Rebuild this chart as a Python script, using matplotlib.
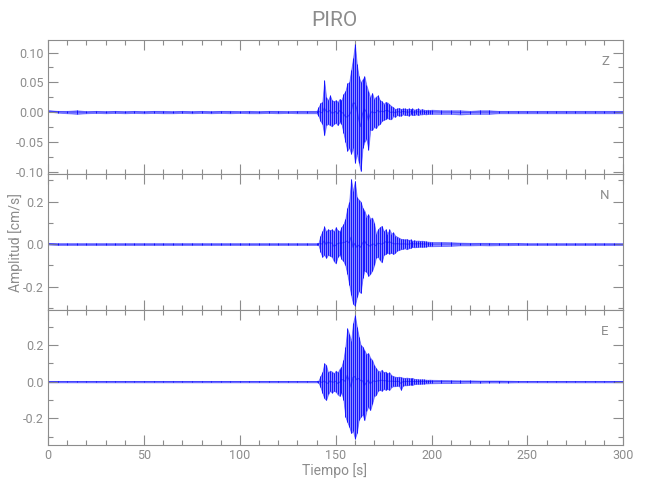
import numpy as np
import matplotlib
matplotlib.use("Agg")
import matplotlib.pyplot as plt
from matplotlib.ticker import MultipleLocator, FormatStrFormatter

plt.rcParams["font.family"] = ["Liberation Sans Narrow", "Roboto", "DejaVu Sans"]

# sample times (s): quiet part every 5 s, strong motion every 1 s, coda every 5 s
T_QUIET = list(range(0, 140, 5))
T_ACTIVE = list(range(140, 201))
T_CODA = list(range(205, 301, 5))
TIME = T_QUIET + T_ACTIVE + T_CODA

# upper / lower envelope read per sample (cm/s)
Z_UP_QUIET = [0.003, 0.002, 0.002, 0.003, 0.0015, 0.002, 0.0015, 0.002, 0.0015, 0.002,
              0.0015, 0.002, 0.002, 0.0015, 0.002, 0.0015, 0.002, 0.0015, 0.002, 0.002,
              0.0015, 0.002, 0.0015, 0.002, 0.002, 0.0015, 0.002, 0.002]
Z_DN_QUIET = [0.001, -0.001, -0.002, -0.003, -0.002, -0.0015, -0.002, -0.0015, -0.002, -0.0015,
              -0.002, -0.0015, -0.002, -0.002, -0.0015, -0.002, -0.0015, -0.002, -0.0015, -0.002,
              -0.0015, -0.002, -0.002, -0.0015, -0.002, -0.0015, -0.002, -0.002]
Z_UP_ACTIVE = [0.002, 0.008, 0.015, 0.017, 0.053, 0.025, 0.020, 0.028, 0.020, 0.018,
               0.020, 0.017, 0.022, 0.020, 0.030, 0.035, 0.048, 0.050, 0.070, 0.090,
               0.115, 0.080, 0.060, 0.050, 0.055, 0.060, 0.045, 0.035, 0.025, 0.032,
               0.022, 0.026, 0.028, 0.020, 0.018, 0.014, 0.017, 0.016, 0.013, 0.010,
               0.008, 0.005, 0.006, 0.007, 0.005, 0.006, 0.006, 0.005, 0.006, 0.005,
               0.006, 0.004, 0.005, 0.006, 0.004, 0.005, 0.004, 0.003, 0.004, 0.003,
               0.004]
Z_DN_ACTIVE = [-0.002, -0.006, -0.015, -0.020, -0.039, -0.022, -0.020, -0.022, -0.024, -0.020,
               -0.018, -0.022, -0.017, -0.020, -0.035, -0.050, -0.065, -0.060, -0.070, -0.060,
               -0.085, -0.070, -0.085, -0.099, -0.060, -0.050, -0.045, -0.063, -0.030, -0.030,
               -0.025, -0.027, -0.022, -0.020, -0.015, -0.013, -0.012, -0.010, -0.012, -0.012,
               -0.007, -0.008, -0.005, -0.006, -0.006, -0.004, -0.005, -0.005, -0.006, -0.004,
               -0.005, -0.005, -0.004, -0.005, -0.004, -0.004, -0.003, -0.004, -0.003, -0.003,
               -0.003]
Z_UP_CODA = [0.003, 0.003, 0.003, 0.002, 0.003, 0.003, 0.002, 0.002, 0.002, 0.002,
             0.002, 0.002, 0.002, 0.002, 0.002, 0.002, 0.002, 0.002, 0.002, 0.002]
Z_DN_CODA = [-0.003, -0.003, -0.004, -0.003, -0.003, -0.003, -0.002, -0.002, -0.002, -0.002,
             -0.002, -0.002, -0.002, -0.002, -0.002, -0.002, -0.002, -0.002, -0.002, -0.002]

N_UP_QUIET = [0.006, 0.004, 0.004, 0.004, 0.004, 0.004, 0.004, 0.004, 0.004, 0.004,
              0.004, 0.004, 0.004, 0.004, 0.004, 0.004, 0.004, 0.004, 0.004, 0.004,
              0.004, 0.004, 0.004, 0.004, 0.004, 0.004, 0.004, 0.004]
N_DN_QUIET = [-0.002, -0.004, -0.004, -0.004, -0.004, -0.004, -0.004, -0.004, -0.004, -0.004,
              -0.004, -0.004, -0.004, -0.004, -0.004, -0.004, -0.004, -0.004, -0.004, -0.004,
              -0.004, -0.004, -0.004, -0.004, -0.004, -0.004, -0.004, -0.004]
N_UP_ACTIVE = [0.004, 0.006, 0.040, 0.060, 0.083, 0.060, 0.070, 0.065, 0.070, 0.060,
               0.080, 0.065, 0.060, 0.080, 0.094, 0.120, 0.170, 0.200, 0.306, 0.250,
               0.298, 0.220, 0.210, 0.200, 0.170, 0.157, 0.130, 0.140, 0.120, 0.125,
               0.100, 0.047, 0.070, 0.080, 0.086, 0.060, 0.070, 0.050, 0.070, 0.050,
               0.055, 0.040, 0.035, 0.030, 0.025, 0.024, 0.022, 0.024, 0.020, 0.022,
               0.016, 0.018, 0.016, 0.017, 0.015, 0.016, 0.014, 0.013, 0.012, 0.011,
               0.010]
N_DN_ACTIVE = [-0.004, -0.005, -0.035, -0.060, -0.050, -0.065, -0.050, -0.055, -0.060, -0.080,
               -0.091, -0.060, -0.050, -0.070, -0.080, -0.100, -0.140, -0.190, -0.240, -0.280,
               -0.290, -0.250, -0.220, -0.230, -0.160, -0.125, -0.130, -0.150, -0.140, -0.125,
               -0.100, -0.063, -0.060, -0.075, -0.086, -0.050, -0.047, -0.040, -0.045, -0.040,
               -0.047, -0.040, -0.030, -0.028, -0.024, -0.022, -0.020, -0.024, -0.020, -0.018,
               -0.013, -0.015, -0.014, -0.013, -0.012, -0.013, -0.012, -0.012, -0.010, -0.010,
               -0.010]
N_UP_CODA = [0.010, 0.009, 0.007, 0.006, 0.006, 0.006, 0.005, 0.005, 0.005, 0.004,
             0.004, 0.004, 0.004, 0.004, 0.004, 0.004, 0.004, 0.004, 0.004, 0.004]
N_DN_CODA = [-0.009, -0.008, -0.006, -0.006, -0.005, -0.006, -0.005, -0.005, -0.004, -0.004,
             -0.004, -0.004, -0.004, -0.004, -0.004, -0.004, -0.004, -0.004, -0.004, -0.004]

E_UP_QUIET = [0.004, 0.004, 0.004, 0.004, 0.004, 0.004, 0.004, 0.004, 0.004, 0.004,
              0.004, 0.004, 0.004, 0.004, 0.004, 0.004, 0.004, 0.004, 0.004, 0.004,
              0.004, 0.004, 0.004, 0.004, 0.004, 0.004, 0.004, 0.004]
E_DN_QUIET = [-0.004, -0.004, -0.004, -0.004, -0.004, -0.004, -0.004, -0.004, -0.004, -0.004,
              -0.004, -0.004, -0.004, -0.004, -0.004, -0.004, -0.004, -0.004, -0.004, -0.004,
              -0.004, -0.004, -0.004, -0.004, -0.004, -0.004, -0.004, -0.004]
E_UP_ACTIVE = [0.004, 0.006, 0.030, 0.050, 0.100, 0.090, 0.050, 0.060, 0.055, 0.045,
               0.060, 0.050, 0.070, 0.082, 0.120, 0.190, 0.290, 0.260, 0.220, 0.318,
               0.364, 0.300, 0.245, 0.200, 0.190, 0.170, 0.150, 0.155, 0.130, 0.118,
               0.090, 0.073, 0.060, 0.055, 0.065, 0.050, 0.055, 0.045, 0.050, 0.035,
               0.030, 0.027, 0.025, 0.027, 0.024, 0.022, 0.020, 0.022, 0.020, 0.018,
               0.020, 0.015, 0.014, 0.013, 0.012, 0.013, 0.012, 0.011, 0.010, 0.011,
               0.010]
E_DN_ACTIVE = [-0.004, -0.005, -0.030, -0.060, -0.090, -0.100, -0.070, -0.050, -0.060, -0.050,
               -0.055, -0.070, -0.078, -0.060, -0.100, -0.190, -0.220, -0.245, -0.280, -0.270,
               -0.310, -0.280, -0.210, -0.190, -0.180, -0.210, -0.160, -0.136, -0.155, -0.120,
               -0.080, -0.073, -0.050, -0.045, -0.050, -0.040, -0.045, -0.040, -0.045, -0.030,
               -0.025, -0.025, -0.022, -0.024, -0.045, -0.022, -0.020, -0.020, -0.018, -0.016,
               -0.018, -0.014, -0.012, -0.012, -0.012, -0.011, -0.011, -0.010, -0.010, -0.009,
               -0.009]
E_UP_CODA = [0.009, 0.008, 0.007, 0.007, 0.006, 0.006, 0.006, 0.005, 0.004, 0.004,
             0.004, 0.004, 0.004, 0.004, 0.004, 0.004, 0.004, 0.004, 0.004, 0.004]
E_DN_CODA = [-0.008, -0.008, -0.007, -0.006, -0.006, -0.005, -0.005, -0.005, -0.004, -0.004,
             -0.004, -0.004, -0.004, -0.004, -0.004, -0.004, -0.004, -0.004, -0.004, -0.004]

COMPONENTS = ["Z", "N", "E"]
UPPER = {"Z": Z_UP_QUIET + Z_UP_ACTIVE + Z_UP_CODA,
         "N": N_UP_QUIET + N_UP_ACTIVE + N_UP_CODA,
         "E": E_UP_QUIET + E_UP_ACTIVE + E_UP_CODA}
LOWER = {"Z": Z_DN_QUIET + Z_DN_ACTIVE + Z_DN_CODA,
         "N": N_DN_QUIET + N_DN_ACTIVE + N_DN_CODA,
         "E": E_DN_QUIET + E_DN_ACTIVE + E_DN_CODA}
YLIMS = {"Z": (-0.104, 0.121), "N": (-0.31, 0.33), "E": (-0.345, 0.39)}
YMAJOR = {"Z": 0.05, "N": 0.2, "E": 0.2}
YFMT = {"Z": "%.2f", "N": "%.1f", "E": "%.1f"}

GREY = "#8c8c8c"
TRACE = "#0000ff"

fig = plt.figure(figsize=(6.5, 5), dpi=100)
left, width = 0.074, 0.885
rows = [(0.652, 0.268), (0.380, 0.272), (0.110, 0.270)]

t = np.asarray(TIME, dtype=float)
for comp, (bottom, height) in zip(COMPONENTS, rows):
    ax = fig.add_axes([left, bottom, width, height])
    up = np.asarray(UPPER[comp])
    dn = np.asarray(LOWER[comp])
    # light band for the envelope, dense strokes for each swing
    ax.fill_between(t, dn, up, color=TRACE, alpha=0.45, lw=0.6)
    ax.vlines(t, dn, up, color=TRACE, lw=0.7, alpha=0.85)
    ax.plot(t, (up + dn) / 2, color=TRACE, lw=0.7, alpha=0.5)

    ax.set_xlim(0, 300)
    ax.set_ylim(*YLIMS[comp])
    ax.xaxis.set_major_locator(MultipleLocator(50))
    ax.xaxis.set_minor_locator(MultipleLocator(10))
    ax.yaxis.set_major_locator(MultipleLocator(YMAJOR[comp]))
    ax.yaxis.set_minor_locator(MultipleLocator(YMAJOR[comp] / 2))
    ax.yaxis.set_major_formatter(FormatStrFormatter(YFMT[comp]))
    ax.tick_params(which="both", direction="in", top=True, right=True,
                   color=GREY, labelcolor=GREY, labelsize=9, width=0.8, pad=3)
    ax.tick_params(which="major", length=7)
    ax.tick_params(which="minor", length=3.5)
    for sp in ax.spines.values():
        sp.set_color(GREY)
        sp.set_linewidth(0.8)
    if comp != "E":
        ax.tick_params(axis="x", labelbottom=False)
    ax.text(0.968, 0.84, comp, transform=ax.transAxes, color=GREY,
            fontsize=9.5, ha="center", va="center")

fig.text(0.515, 0.958, "PIRO", color=GREY, fontsize=15, ha="center", va="center")
fig.text(0.515, 0.058, "Tiempo [s]", color=GREY, fontsize=10, ha="center", va="center")
fig.text(0.024, 0.515, "Amplitud [cm/s]", color=GREY, fontsize=10,
         rotation=90, ha="center", va="center")

fig.savefig("out.png", dpi=100)
